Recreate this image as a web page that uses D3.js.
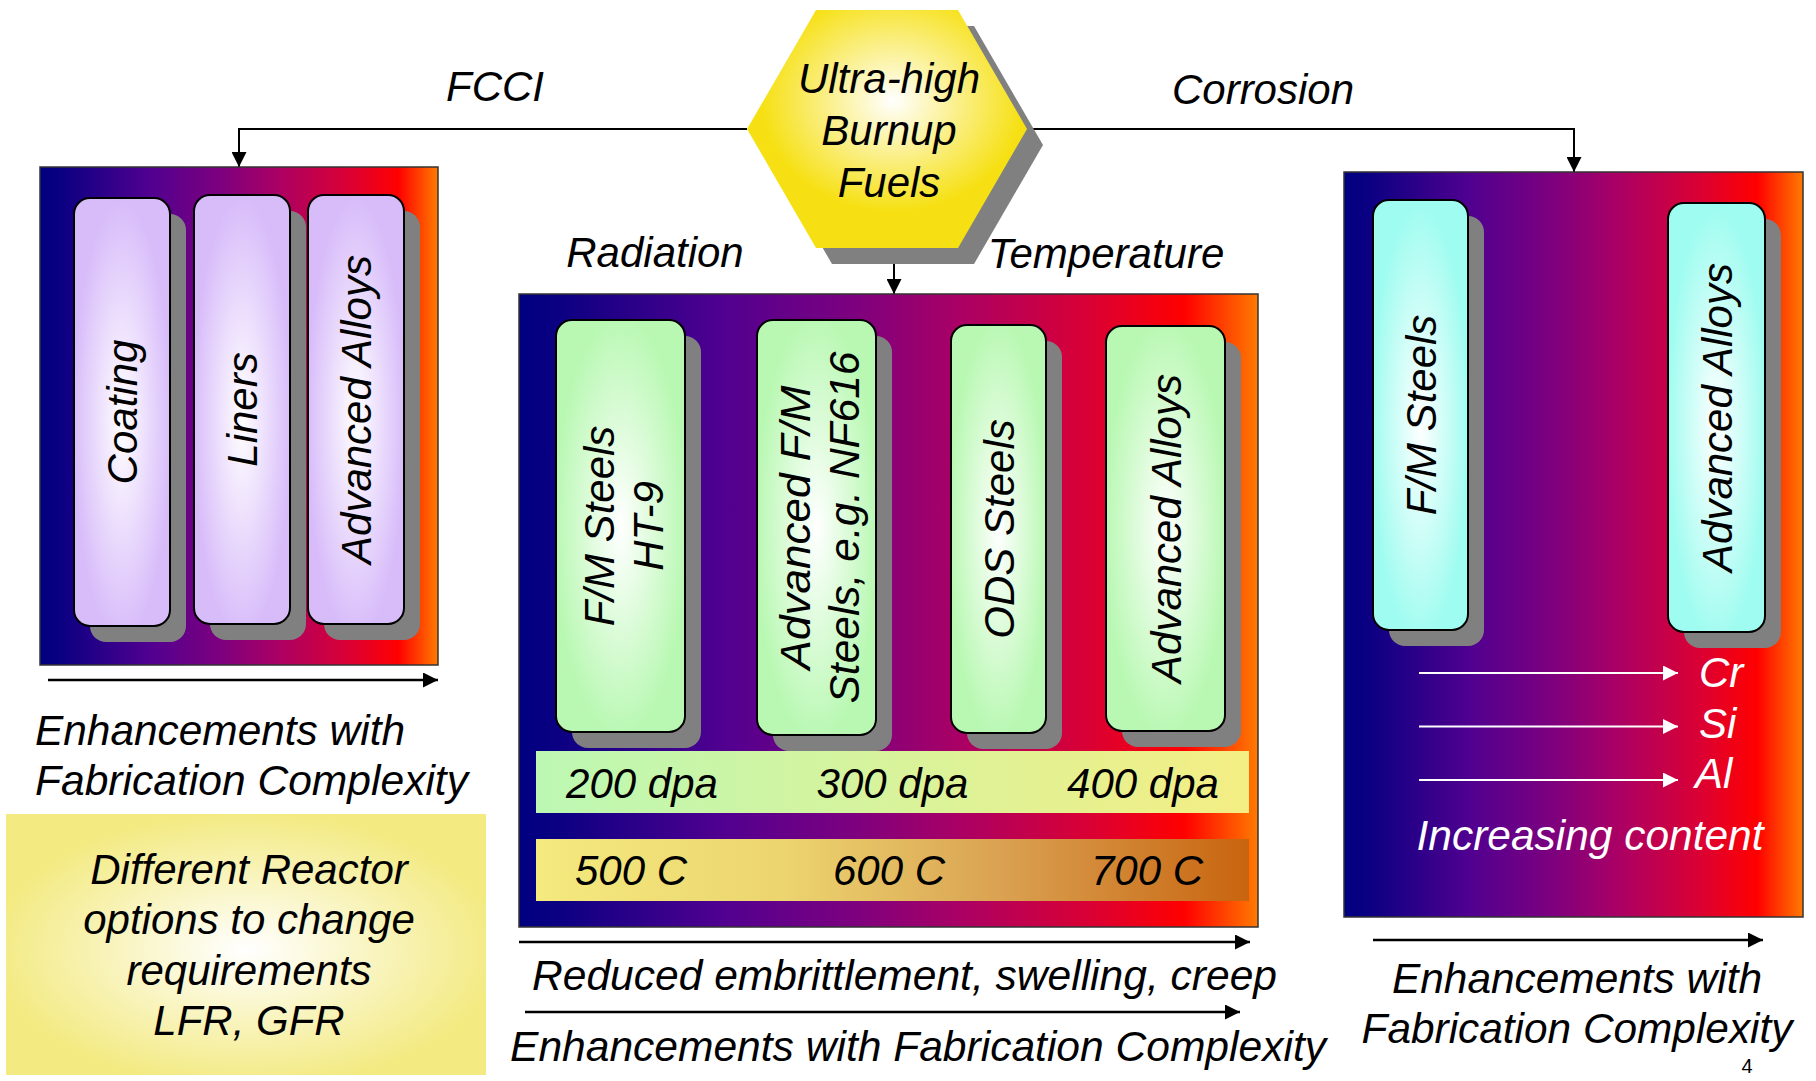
<!DOCTYPE html>
<html>
<head>
<meta charset="utf-8">
<script src="https://cdn.jsdelivr.net/npm/d3@7"></script>
<style>
  html, body { margin: 0; padding: 0; background: #fff; }
  svg { display: block; }
  text { font-family: "Liberation Sans", Arial, sans-serif; font-style: italic; }
</style>
</head>
<body>
<div id="chart"></div>
<script>
// ---------------- data ----------------
const hubLines = ["Ultra-high", "Burnup", "Fuels"];
const connectorLabels = ["FCCI", "Corrosion", "Radiation", "Temperature"];
const leftPills = [["Coating"], ["Liners"], ["Advanced Alloys"]];
const centerPills = [["F/M Steels", "HT-9"], ["Advanced F/M", "Steels, e.g. NF616"], ["ODS Steels"], ["Advanced Alloys"]];
const rightPills = [["F/M Steels"], ["Advanced Alloys"]];
const dpaLabels = ["200 dpa", "300 dpa", "400 dpa"];
const tempLabels = ["500 C", "600 C", "700 C"];
const elements = ["Cr", "Si", "Al"];
const reactorLines = ["Different Reactor", "options to change", "requirements", "LFR, GFR"];
const enhLines = ["Enhancements with", "Fabrication Complexity"];
const centerCaptions = ["Reduced embrittlement, swelling, creep", "Enhancements with Fabrication Complexity"];
const contentLabel = "Increasing content";
const pageNumber = "4";

// ---------------- layout ----------------
const W = 1816, H = 1081;
const FS = 42;
const svg = d3.select("#chart").append("svg").attr("width", W).attr("height", H);
svg.append("rect").attr("width", W).attr("height", H).attr("fill", "#fff");
const defs = svg.append("defs");

// background gradient for the three panels
const bg = defs.append("linearGradient").attr("id", "panelGrad").attr("x1", 0).attr("x2", 1).attr("y1", 0).attr("y2", 0);
[[0, "#000080"], [0.05, "#0a0082"], [0.28, "#520090"], [0.45, "#7c007f"], [0.6, "#ab0064"], [0.78, "#dc0032"], [0.9, "#ff0000"], [1, "#ff7a00"]]
  .forEach(([o, c]) => bg.append("stop").attr("offset", o).attr("stop-color", c));

function radial(id, color, cx = 0.5, cy = 0.5, r = 0.55, inner = 0) {
  const g = defs.append("radialGradient").attr("id", id).attr("cx", cx).attr("cy", cy).attr("r", r);
  g.append("stop").attr("offset", 0).attr("stop-color", "#ffffff");
  if (inner) g.append("stop").attr("offset", inner).attr("stop-color", "#ffffff");
  g.append("stop").attr("offset", 0.85).attr("stop-color", color);
  g.append("stop").attr("offset", 1).attr("stop-color", color);
}
radial("lavGrad", "#d8bcfa", 0.5, 0.52, 0.6);
radial("greenGrad", "#b9f8b3", 0.5, 0.5, 0.6);
radial("cyanGrad", "#9ffcf0", 0.5, 0.52, 0.6);
radial("hexGrad", "#f6e013", 0.52, 0.38, 0.55);
radial("noteGrad", "#f3ea82", 0.5, 0.52, 0.62);

const dpaGrad = defs.append("linearGradient").attr("id", "dpaGrad");
dpaGrad.append("stop").attr("offset", 0).attr("stop-color", "#bcf8b3");
dpaGrad.append("stop").attr("offset", 1).attr("stop-color", "#f4ee84");
const tGrad = defs.append("linearGradient").attr("id", "tempGrad");
[[0, "#f4ea7e"], [0.35, "#ecd46f"], [0.65, "#daa252"], [1, "#c8640f"]]
  .forEach(([o, c]) => tGrad.append("stop").attr("offset", o).attr("stop-color", c));

// arrowhead markers
function marker(id, color) {
  defs.append("marker").attr("id", id).attr("viewBox", "0 0 10 10").attr("refX", 10).attr("refY", 5)
    .attr("markerUnits", "userSpaceOnUse").attr("markerWidth", 16).attr("markerHeight", 15).attr("orient", "auto")
    .append("path").attr("d", "M0,0 L10,5 L0,10 Z").attr("fill", color);
}
marker("headBlack", "#000");
marker("headWhite", "#fff");

function text(g, x, y, s, o = {}) {
  const t = g.append("text").attr("x", x).attr("y", y).text(s)
    .attr("font-size", o.size || FS).attr("fill", o.fill || "#000")
    .attr("text-anchor", o.anchor || "middle");
  if (o.len) t.attr("textLength", o.len).attr("lengthAdjust", "spacingAndGlyphs");
  if (o.normal) t.style("font-style", "normal");
  return t;
}
function arrow(g, x1, y1, x2, y2, color = "#000", w = 2.5) {
  g.append("line").attr("x1", x1).attr("y1", y1).attr("x2", x2).attr("y2", y2)
    .attr("stroke", color).attr("stroke-width", w)
    .attr("marker-end", color === "#fff" ? "url(#headWhite)" : "url(#headBlack)");
}

// ---------------- connectors ----------------
const conn = svg.append("g");
const hex = { cx: 887, cy: 129, l: 747, r: 1027, tl: 816, tr: 958, top: 10, bot: 248 };
conn.append("path").attr("d", d3.line()([[hex.l, hex.cy], [239, hex.cy], [239, 157]]))
  .attr("fill", "none").attr("stroke", "#000").attr("stroke-width", 2);
arrow(conn, 239, 150, 239, 167, "#000", 2);
conn.append("path").attr("d", d3.line()([[hex.r, hex.cy], [1574, hex.cy], [1574, 160]]))
  .attr("fill", "none").attr("stroke", "#000").attr("stroke-width", 2);
arrow(conn, 1574, 150, 1574, 172, "#000", 2);
arrow(conn, 894, hex.bot, 894, 294, "#000", 2);

text(svg, 495, 101, connectorLabels[0]);
text(svg, 1263, 104, connectorLabels[1]);
text(svg, 655, 267, connectorLabels[2]);
text(svg, 1106, 268, connectorLabels[3]);

// ---------------- hexagon ----------------
const hexPts = [[hex.tl, hex.top], [hex.tr, hex.top], [hex.r, hex.cy], [hex.tr, hex.bot], [hex.tl, hex.bot], [hex.l, hex.cy]];
svg.append("polygon").attr("points", hexPts.map(p => [p[0] + 16, p[1] + 16].join(",")).join(" ")).attr("fill", "#808080");
svg.append("polygon").attr("points", hexPts.map(p => p.join(",")).join(" ")).attr("fill", "url(#hexGrad)");
const hy = d3.scalePoint().domain(hubLines).range([93, 197]);
hubLines.forEach(s => text(svg, 889, hy(s), s));

// ---------------- panels ----------------
function panel(x, y, w, h) {
  svg.append("rect").attr("x", x).attr("y", y).attr("width", w).attr("height", h)
    .attr("fill", "url(#panelGrad)").attr("stroke", "#333").attr("stroke-width", 1.5);
}
panel(40, 167, 398, 498);
panel(519, 294, 739, 633);
panel(1344, 172, 459, 745);

function pills(list, boxes, fill) {
  const g = svg.append("g");
  list.forEach((lines, i) => {
    const b = boxes[i];
    g.append("rect").attr("x", b.x + 16).attr("y", b.y + 16).attr("width", b.w).attr("height", b.h)
      .attr("rx", 16).attr("fill", "#808080");
    g.append("rect").attr("x", b.x).attr("y", b.y).attr("width", b.w).attr("height", b.h)
      .attr("rx", 16).attr("fill", fill).attr("stroke", "#000").attr("stroke-width", 2);
    const cx = b.x + b.w / 2, cy = b.y + b.h / 2;
    const offs = lines.length === 1 ? [15] : [-7, 42];
    lines.forEach((s, j) => {
      text(g, 0, 0, s, { size: b.fs || FS, len: b.len ? b.len[j] : null })
        .attr("transform", `translate(${cx + offs[j]},${cy}) rotate(-90)`);
    });
  });
}
pills(leftPills, [
  { x: 74, y: 198, w: 96, h: 428 },
  { x: 194, y: 195, w: 96, h: 429 },
  { x: 308, y: 195, w: 96, h: 429 }
], "url(#lavGrad)");
pills(centerPills, [
  { x: 556, y: 320, w: 129, h: 412 },
  { x: 757, y: 320, w: 119, h: 415, len: [284, 352] },
  { x: 951, y: 325, w: 95, h: 408 },
  { x: 1106, y: 326, w: 119, h: 405 }
], "url(#greenGrad)");
pills(rightPills, [
  { x: 1373, y: 200, w: 95, h: 430 },
  { x: 1668, y: 203, w: 97, h: 429 }
], "url(#cyanGrad)");

// bands in center panel
svg.append("rect").attr("x", 536).attr("y", 751).attr("width", 713).attr("height", 62).attr("fill", "url(#dpaGrad)");
svg.append("rect").attr("x", 536).attr("y", 839).attr("width", 713).attr("height", 62).attr("fill", "url(#tempGrad)");
const xd = d3.scalePoint().domain(dpaLabels).range([642, 1143]);
dpaLabels.forEach(s => text(svg, xd(s), 798, s));
const xt = d3.scalePoint().domain(tempLabels).range([631, 1147]);
tempLabels.forEach(s => text(svg, xt(s), 885, s));

// right panel element arrows
const ya = d3.scalePoint().domain(elements).range([673, 780]);
const yl = d3.scalePoint().domain(elements).range([687, 788]);
elements.forEach((s, i) => {
  arrow(svg, 1419, ya(s), 1678, ya(s), "#fff", 2);
  text(svg, i === 2 ? 1695 : 1699, yl(s), s, { fill: "#fff", anchor: "start" });
});
text(svg, 1590, 850, contentLabel, { fill: "#fff", len: 347 });

// ---------------- captions & arrows ----------------
arrow(svg, 48, 680, 438, 680, "#000", 2.5);
text(svg, 35, 745, enhLines[0], { anchor: "start", len: 370 });
text(svg, 35, 795, enhLines[1], { anchor: "start", len: 433 });

arrow(svg, 519, 942, 1250, 942, "#000", 2.5);
text(svg, 532, 990, centerCaptions[0], { anchor: "start", len: 745 });
arrow(svg, 525, 1012, 1240, 1012, "#000", 2.5);
text(svg, 510, 1061, centerCaptions[1], { anchor: "start", len: 816 });

arrow(svg, 1373, 940, 1763, 940, "#000", 2.5);
text(svg, 1577, 993, enhLines[0], { len: 370 });
text(svg, 1577, 1043, enhLines[1], { len: 431 });
text(svg, 1747, 1073, pageNumber, { size: 20, normal: true });

// ---------------- note box ----------------
svg.append("rect").attr("x", 6).attr("y", 814).attr("width", 480).attr("height", 261).attr("fill", "url(#noteGrad)");
const yn = d3.scalePoint().domain(reactorLines).range([884, 1035]);
reactorLines.forEach(s => text(svg, 249, yn(s), s));
</script>
</body>
</html>
